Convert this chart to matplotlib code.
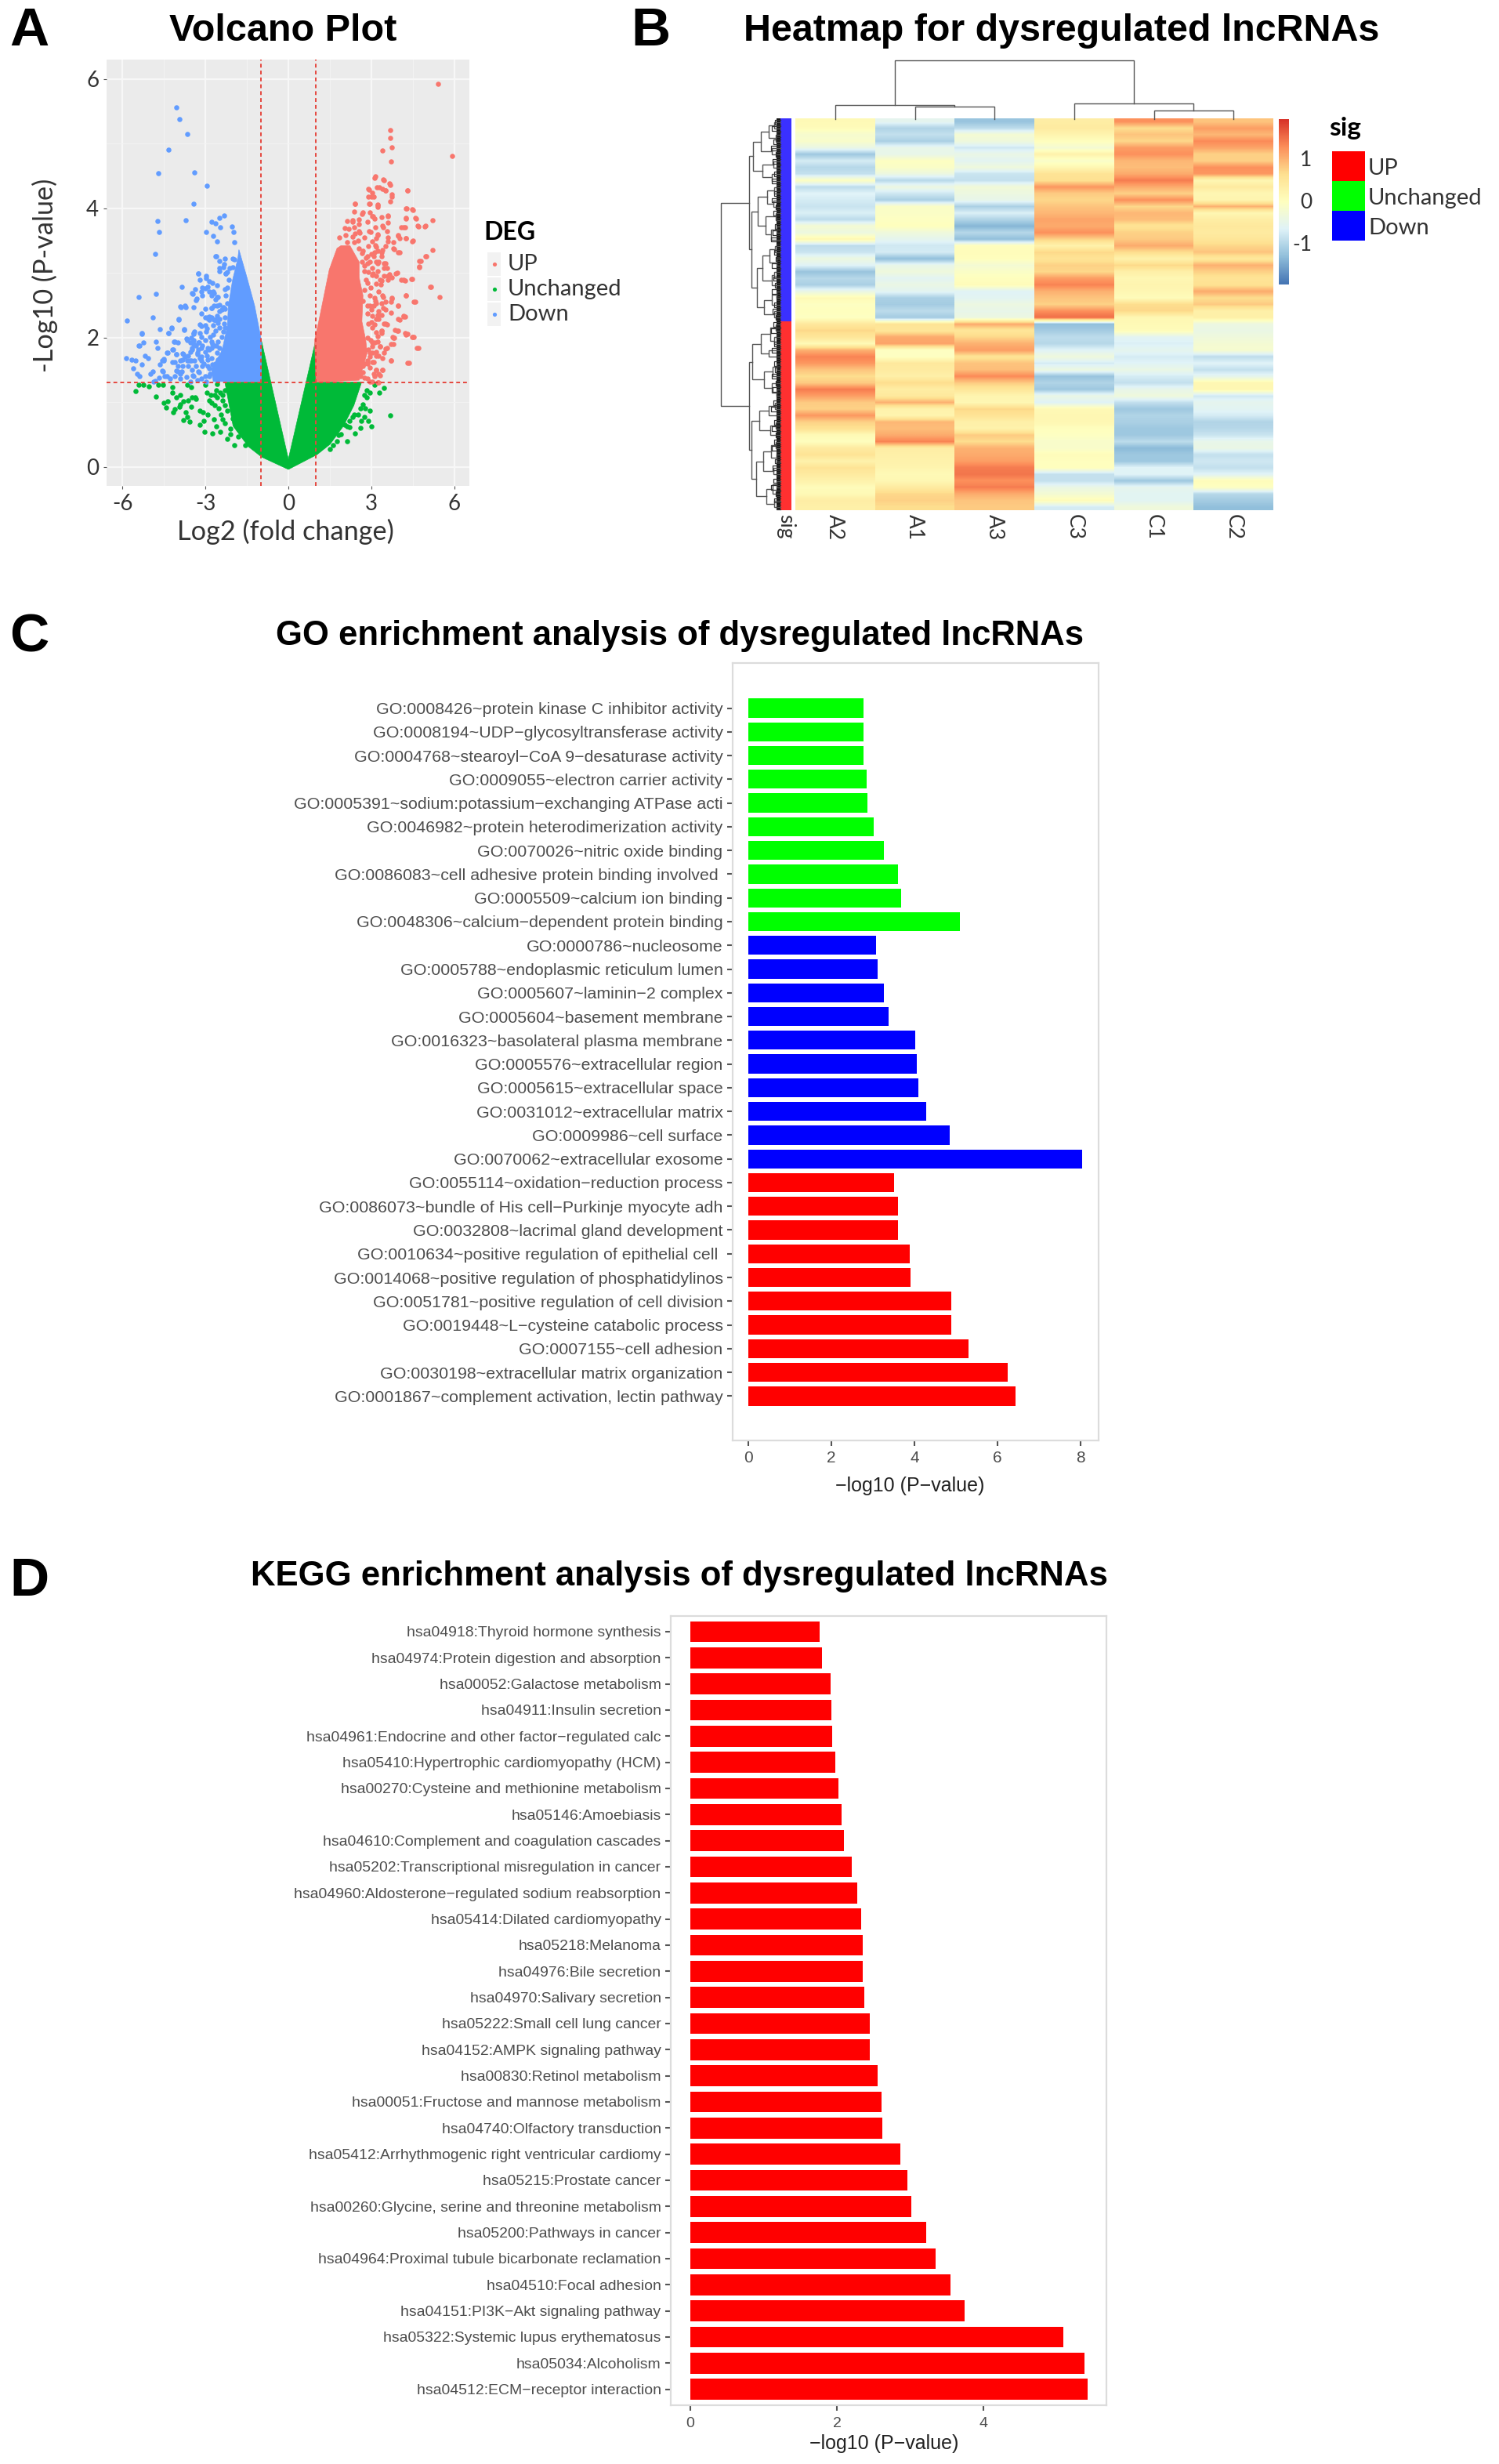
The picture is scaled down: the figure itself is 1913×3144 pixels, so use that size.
import matplotlib
matplotlib.use("Agg")
import matplotlib.pyplot as plt
from matplotlib.colors import LinearSegmentedColormap
from matplotlib.patches import Rectangle
import numpy as np

W, H = 1913, 3144
SANS = "Liberation Sans"
CAL = "Lato"

# ---------- panel A: scattered points
blue_x = [-4.05,-3.95,-3.65,-4.33,-4.72,-3.40,-2.94,-3.44,-4.73,-3.71,-4.67,-4.82,-5.42,-4.78,-3.86,-3.25,-2.97,-5.30,-5.39,
          -2.79,-2.34,-2.49,-2.64,-2.46,-2.97,-2.72,-2.05,-2.00,-2.57,-1.97,-2.60,-1.97,-2.34,-2.49,-2.12,-2.27,
          -3.01,-2.72,-2.76,-2.57,-3.16,-3.46,-3.90,-3.72,-3.31,-3.16,-2.79,-2.42,-2.86,-2.57,-2.34,
          -5.83,-4.90,-3.97,-5.31,-4.66,-4.24,-4.33,-3.76,-2.91,-2.67,-3.15,-2.96,-3.43,-3.53,-3.67,-5.24,-5.41,-4.79,-4.75,
          -4.14,-4.00,-4.19,-3.43,-3.24,-3.15,-3.48,-2.76,-2.62,-2.86,-4.36,-4.05,-3.81,-3.29,-2.96,-5.86,-5.67,-5.52,-5.20,
          -5.09,-5.31,-5.62,-4.52,-4.65,-4.19,-3.67,-3.53,-3.20,-3.05,-2.76,-2.53,-3.99,-4.55,-5.00,-3.99,-5.47,-5.38,-4.47,
          -3.91,-3.43,-3.24,-4.81,-4.28,-2.86,-2.34,-2.10,-2.58]
blue_y = [5.56,5.38,5.15,4.90,4.54,4.55,4.35,4.07,3.80,3.81,3.63,3.29,2.63,2.67,2.78,2.99,2.92,2.07,1.88,
          3.79,3.89,3.85,3.77,3.71,3.63,3.57,3.72,3.63,3.49,3.48,3.26,3.21,3.13,3.07,3.07,2.99,
          2.76,2.71,2.85,2.63,2.71,2.68,2.47,2.47,2.60,2.37,2.46,2.43,2.32,2.26,2.21,
          2.26,2.31,2.27,2.06,2.13,2.14,2.07,2.12,2.30,2.28,2.18,2.14,2.06,2.00,1.96,1.92,1.87,1.93,1.84,
          1.93,1.92,1.82,1.90,1.92,1.84,1.82,1.90,1.88,1.82,1.76,1.74,1.74,1.74,1.72,1.68,1.66,1.64,1.72,
          1.68,1.58,1.52,1.64,1.58,1.62,1.64,1.64,1.68,1.60,1.58,1.54,1.56,1.47,1.44,1.48,1.44,1.40,1.40,
          1.37,1.40,1.46,1.33,1.36,1.40,1.50,1.52,1.35]
blue_more_x = [-2.50,-2.35,-2.50,-2.26,-2.31,-2.02,-2.64,-3.25,-2.97,-3.21,-2.87,-2.59,-2.21,-3.11,-3.37,-3.49,-2.87,-2.69,-2.54,
               -3.11,-3.35,-3.92,-3.73,-3.42,-3.02,-2.78,-2.59,-2.50,-2.31,-2.92,-2.69,-2.50,-2.31,-3.98,-3.77,-4.22,-4.34,-3.21,
               -3.02,-2.50,-2.31,-3.44,-3.21,-2.97,-2.73,-2.40,-3.68,-3.54,-3.25,-2.78,-2.54,-3.49,-3.25,-2.92,-2.69,-4.10,-4.18,
               -4.41,-4.06,-3.82,-3.73,-3.58,-3.40,-3.16,-2.92,-4.10,-3.82,-4.58,-4.50,-4.58,-4.06,-3.87,-4.91,-4.67,-4.39,-4.10,
               -3.70,-3.46,-3.25,-3.11,-3.02,-2.59,-3.16,-4.88,-2.87,-3.82,
               -3.40,-3.16,-3.02,-2.83,-2.64,-2.35,-2.21,-3.44,-3.35,-3.11,-2.78,-2.50,-2.35,-3.54,-3.30,-3.02,-2.59,-3.63,-3.16,
               -2.78,-2.54,-3.92,-3.63,-3.35,-2.92,-2.64,-3.92,-3.49,-2.83,-2.97,-3.30,-3.54,-2.92,-2.78,-2.64,-2.50,-2.35,-2.69,
               -2.87,-3.02,-2.59,-2.78,-2.73,-2.54,-2.21,-2.26,-2.31,-2.17,-2.21,-2.02]
blue_more_y = [3.18,3.09,3.03,2.99,3.22,3.22,3.26,2.99,2.95,2.89,2.87,2.81,2.77,2.77,2.75,2.69,2.71,2.69,2.63,
               2.65,2.58,2.48,2.49,2.47,2.44,2.46,2.49,2.41,2.45,2.31,2.27,2.29,2.31,2.29,2.13,2.15,2.07,2.20,
               2.19,2.15,2.15,2.07,2.07,2.09,2.05,2.01,1.98,1.92,1.92,1.94,1.94,1.84,1.82,1.84,1.88,1.94,1.82,
               1.76,1.74,1.75,1.70,1.64,1.64,1.70,1.66,1.62,1.56,1.64,1.67,1.49,1.49,1.47,1.47,1.38,1.40,1.40,
               1.39,1.42,1.47,1.56,1.40,1.34,1.37,1.32,1.52,1.66,
               2.09,2.01,1.96,2.01,2.11,2.09,2.01,1.96,1.88,1.88,1.84,1.84,1.80,1.78,1.76,1.78,1.76,1.72,1.64,
               1.68,1.66,1.64,1.56,1.56,1.56,1.60,1.44,1.50,1.44,1.32,1.34,1.32,2.79,2.65,2.59,2.51,2.47,2.49,
               2.27,2.31,2.33,2.31,2.19,2.23,2.53,2.65,2.75,2.89,3.01,3.09]

red_x = [5.42,5.92,3.68,3.68,3.74,3.40,3.72,3.15,3.44,3.66,2.92,3.29,3.52,4.30,3.00,3.74,2.40,2.92,3.22,4.29,4.48,2.70,3.07,
         3.59,4.26,4.60,5.22,4.70,4.93,4.18,3.44,2.33,2.55,2.92,3.22,3.96,4.26,4.48,3.59,3.15,3.81,4.04,3.37,3.00,5.22,5.00,
         4.78,4.73,3.52,3.22,2.85,3.07,3.59,3.89,4.18,4.48,3.37,2.85,5.15,5.47,4.26,4.58,3.44,3.74,3.15,3.96,3.44,3.00,3.22,
         4.18,3.52,3.00,3.85,4.22,4.48,3.37,3.78,
         4.36,4.70,4.55,4.32,3.98,4.22,4.03,3.70,3.46,3.80,3.84,3.56,3.37,3.13,3.22,3.03,3.32,3.56,3.18,3.41,3.18,3.03,2.94,
         2.75,3.13,3.32,2.94,3.22]
red_y = [5.92,4.81,5.21,5.09,4.94,4.89,4.73,4.49,4.44,4.38,4.29,4.32,4.27,4.27,4.18,4.18,4.07,4.07,4.04,4.00,3.98,3.93,3.88,
         3.88,3.85,3.85,3.82,3.72,3.72,3.71,3.71,3.79,3.65,3.65,3.60,3.57,3.54,3.49,3.49,3.43,3.38,3.32,3.32,3.29,3.35,3.26,
         3.18,3.10,3.15,3.15,3.15,2.99,2.96,2.99,2.89,2.90,2.88,2.85,2.78,2.63,2.65,2.55,2.63,2.60,2.57,2.49,2.46,2.43,2.35,
         2.32,2.21,2.24,2.12,2.07,2.01,2.07,2.01,
         1.61,1.84,2.01,2.06,2.10,2.32,2.28,1.64,1.76,1.90,2.00,2.20,2.10,2.20,2.02,1.92,1.86,1.84,1.72,1.50,1.50,1.62,1.76,
         1.60,1.40,1.42,1.32,1.31]
red_more_x = [3.13,3.46,3.68,3.21,3.41,3.51,2.89,3.04,4.31,3.74,2.89,3.08,3.68,2.40,2.94,3.22,3.22,2.37,4.26,4.50,2.66,2.94,3.04,
              3.13,3.37,3.60,4.26,4.61,2.14,2.33,2.56,2.85,3.60,3.41,3.16,2.56,4.67,4.95,4.08,4.22,2.04,2.18,2.37,3.56,2.42,2.59,
              2.97,3.22,1.85,2.06,2.33,2.75,3.98,3.60,4.26,4.03,4.50,3.79,3.18,3.04,2.37,2.89,3.18,3.51,3.39,3.84,3.98,3.13,2.85,
              4.97,2.66,4.74,3.27,3.46,4.74,3.04,2.75,3.46,3.22,3.93,3.65,2.89,3.18,3.46,3.74,4.08,4.22,4.45,3.35,5.12,3.27,3.41,
              4.24,3.74,3.51,3.70,4.55,3.98,3.08,3.27,3.70,4.17,3.98,3.18,2.85,
              3.27,3.46,3.18,3.37,3.93,4.26,4.50,3.79,4.64,4.31,3.70,3.70,3.51,3.22,3.04,3.18,2.94,3.41,3.08,3.18,2.85,3.41,2.75,
              3.04,3.27,2.70,
              2.70,2.80,2.94,3.18,2.66,2.75,3.04,2.80,2.99,3.18,2.75,2.94,3.13,2.70,2.94,3.18,3.37,2.85,3.04,3.37,3.51,3.32,3.60,
              3.56,3.08,3.37,3.22,2.56,2.52,2.14,
              2.89,3.04,2.85,2.99,3.13,3.32,2.89,3.04,3.27,2.85,2.94,3.08,3.27,2.70,2.61,2.85]
red_more_y = [4.47,4.43,4.36,4.32,4.30,4.28,4.30,4.24,4.27,4.21,4.18,4.18,4.11,4.07,4.07,4.06,4.02,3.95,4.00,3.97,3.91,3.94,3.88,
              3.84,3.86,3.89,3.84,3.84,3.80,3.81,3.83,3.79,3.78,3.73,3.70,3.75,3.73,3.73,3.71,3.70,3.69,3.68,3.70,3.65,3.61,3.62,
              3.63,3.59,3.55,3.58,3.56,3.55,3.58,3.55,3.54,3.54,3.50,3.48,3.54,3.49,3.48,3.42,3.40,3.41,3.36,3.37,3.32,3.32,3.26,
              3.26,3.30,3.18,3.17,3.15,3.09,3.07,3.11,3.07,3.03,3.00,2.98,3.01,2.95,2.95,2.93,2.89,2.88,2.91,2.82,2.79,2.71,2.65,
              2.65,2.61,2.55,2.56,2.56,2.49,2.49,2.41,2.38,2.33,2.29,2.29,2.49,
              2.29,2.21,2.08,2.10,2.10,2.05,2.01,2.00,1.84,1.61,1.65,1.90,1.83,1.94,1.86,1.78,1.70,1.68,1.62,1.50,1.60,1.50,1.38,
              1.32,1.31,1.46,
              3.34,3.23,3.17,3.17,3.17,3.03,2.97,2.89,2.77,2.83,2.73,2.65,2.61,2.57,2.49,2.53,2.53,2.37,2.33,2.35,2.43,2.89,2.89,
              3.07,3.26,3.26,3.34,3.38,3.50,3.48,
              2.21,2.15,2.00,1.96,1.92,1.86,1.82,1.76,1.72,1.64,1.54,1.44,1.44,1.56,1.40,1.36]

green_x = [-5.52,-4.78,-4.52,-4.38,-4.43,-4.17,-4.19,-4.05,-3.91,-3.81,-3.95,-3.72,-3.81,-3.57,-3.53,-3.48,-3.34,-3.20,-2.91,
           -3.21,-3.05,-3.03,-2.70,-2.77,-2.58,-2.81,-2.62,-2.39,-2.29,-2.43,-2.39,-2.62,-2.75,-2.46,-2.20,-1.96,-1.55,-2.10,-1.72,
           -5.43,-5.24,-5.05,-4.71,-4.55,-4.21,-3.67,-3.53,-3.00,-2.58,
           3.46,3.30,2.94,2.84,2.79,2.94,2.60,2.51,2.75,2.89,2.32,2.22,2.13,2.60,3.01,2.41,2.13,1.80,1.75,1.51,3.68,
           -2.29,-2.48,-2.67,-2.53,-2.39,-2.20,-2.01,-1.82,-2.29,-2.10,-1.82,-1.48,-2.67,-2.96,-2.86,-3.10,-3.62,-3.91,-4.10,-3.38,-3.67,
           2.75,2.70,2.37,2.03,2.22,2.65,1.89,1.61,2.84,3.13]
green_y = [1.17,1.09,0.99,1.01,0.92,0.85,1.15,1.07,1.11,1.01,0.93,0.85,0.72,0.70,0.93,1.07,1.05,0.87,0.81,
           0.65,0.71,0.54,0.73,0.99,1.07,1.11,1.19,1.11,0.95,0.81,0.73,0.63,0.52,0.54,0.43,0.33,0.33,0.59,0.61,
           1.27,1.27,1.24,1.27,1.27,1.23,1.27,1.23,1.27,1.28,
           1.22,1.15,1.15,1.07,0.91,0.87,0.91,0.81,0.77,0.71,0.77,0.71,0.63,0.60,0.63,0.52,0.40,0.49,0.39,0.27,0.80,
           1.19,1.15,0.95,0.91,1.03,0.87,0.75,0.97,0.67,0.51,0.47,0.39,1.11,1.15,1.03,0.85,1.03,0.97,0.89,1.07,0.77,
           1.11,0.97,0.81,0.65,0.61,0.71,0.51,0.33,1.19,1.27]

# outlines of the solid clouds, where single points can no longer be told apart
blue_cloud_x = [-1.79,-1.50,-1.22,-0.98,-0.98,-2.72,-2.78,-2.40,-2.21,-2.17,-2.02,-1.83]
blue_cloud_y = [3.36,2.93,2.49,1.96,1.32,1.32,1.52,1.80,2.17,2.49,2.89,3.22]
red_cloud_x = [0.95,1.10,1.48,1.76,1.90,2.23,2.56,2.56,2.70,2.66,2.80,2.85,2.56,1.00]
red_cloud_y = [1.96,2.25,3.05,3.38,3.42,3.42,3.17,2.93,2.65,2.25,1.96,1.76,1.34,1.31]
green_cloud_x = [-0.98,0.00,0.99,1.03,2.65,2.37,1.99,1.51,1.04,0.00,-0.96,-1.44,-2.00,-2.30,-0.98]
green_cloud_y = [1.96,0.12,1.96,1.31,1.31,0.95,0.63,0.35,0.19,-0.04,0.15,0.31,0.63,1.31,1.31]

# ---------- panel B
sample_names = ["A2", "A1", "A3", "C3", "C1", "C2"]
heat_rows = [
    [.15,-.5,-1.2,.4,1.3,.9], [.1,-1.0,-.9,.45,.7,1.2], [-.15,-.85,-.2,.25,.9,1.0], [-.1,-1.05,-.3,.05,.75,1.35],
    [-.4,-.45,-.75,-.2,1.2,1.15], [-1.15,-.45,-.4,.3,1.3,.8], [-.7,.0,-.55,-.1,1.0,.8], [-.95,-.05,-.3,.2,.95,1.3],
    [-.85,-.35,-.8,.6,1.1,1.25], [.0,-.95,-.85,.65,1.45,.2], [-.9,-.35,-.25,1.25,1.1,.45], [-.6,-.75,-.35,.85,.8,.2],
    [-.7,-1.05,-.45,.75,1.3,.25], [-.8,-.05,-1.05,.9,.75,1.05], [-.65,-.05,-.65,1.0,1.0,.2], [-.9,.0,-1.0,1.15,.95,.4],
    [-.2,.05,-1.35,1.1,.6,.5], [-.35,-.3,-.95,1.3,.8,.45], [.2,-.5,-1.25,.8,.85,.55], [-.9,-.75,.05,.3,1.1,.75],
    [-.8,-.7,.1,.75,.7,.9], [-.35,-1.25,.05,.6,.3,.5], [-.6,-.45,-.2,.8,.75,1.05], [-1.2,-.3,-.05,.75,.35,.8],
    [-.95,-.55,.05,1.2,.2,.6], [-1.05,-.4,.1,1.4,.25,.65], [-.4,-.55,-.6,1.05,.2,1.1], [.15,-1.05,-.55,.9,.1,.7],
    [.0,-1.1,-.35,.8,.7,.85], [.05,-.9,-.45,1.3,.75,.35], [.0,-1.1,-.35,1.55,.2,.35],
    [.5,.6,1.1,-1.25,.15,-.35], [.75,.55,.55,-1.1,.1,-.4], [.55,1.1,.75,-.9,-.55,-.3], [.15,1.15,1.05,-.95,-.65,-.2],
    [1.05,.0,1.2,-.6,-.5,-.15], [1.4,.0,.6,-.3,-.7,-.9], [1.25,.5,.9,-.7,-.6,-.6], [.9,.45,.95,-.35,-.4,-.85],
    [.7,.35,1.35,-1.2,-.7,-.5], [.85,.7,.85,-1.0,-.85,.2], [1.45,.4,.55,-1.15,-.45,.2], [1.2,.5,.25,-.4,-.3,-.75],
    [.85,1.05,.2,-.6,-.85,-.5], [.8,.3,.75,.15,-1.15,-.55], [1.25,.25,.6,.2,-1.0,-.7], [.8,1.0,.35,.2,-1.05,-1.0],
    [.65,.95,.3,.05,-1.15,-.95], [.15,1.1,.85,.0,-1.15,-.8], [.05,1.4,.7,-.1,-.9,-.45], [.45,.4,1.05,-.1,-1.3,-.4],
    [.6,.35,1.1,.1,-1.15,-.85], [.3,.3,1.2,.05,-1.15,-.75], [.6,.25,1.45,.05,-.6,-.85], [.45,.15,1.5,-.85,-.6,-.6],
    [.3,.2,1.3,-.85,-1.15,.1], [.1,.45,1.45,-.4,-.5,.0], [.15,.75,1.1,-.2,-.55,-.95], [.4,.8,.9,.1,-.55,-1.1],
    [.35,.7,.85,-.7,-.3,-1.25],
]
n_blue_rows = 31

# trees: [height, left, right], a leaf is a row or column number
col_tree = [1.0, [.24, 0, [.208, 1, 2]], [.262, 3, [.14, 4, 5]]]
row_tree = [1.0,
    [.525,
        [.46, [.33, [.2, [.1, 0, 1], [.08, 2, 3]], [.15, 4, 5]], [.3, [.12, 6, 7], [.14, 8, 9]]],
        [.49,
            [.38, [.22, [.1, 10, 11], [.12, 12, 13]], [.25, [.08, 14, 15], [.16, [.07, 16, 17], 18]]],
            [.4, [.3, [.18, [.09, 19, 20], [.07, 21, 22]], [.14, [.1, 23, 24], 25]],
                 [.27, [.15, [.06, 26, 27], 28], [.11, 29, 30]]]]],
    [.525,
        [.48, [.33, [.17, [.08, 31, 32], [.1, 33, 34]], [.2, 35, 36]], [.28, [.13, [.07, 37, 38], 39], [.15, 40, [.06, 41, 42]]]],
        [.49,
            [.36, [.2, [.09, 43, 44], 45], [.17, [.08, 46, 47], 48]],
            [.41, [.29, [.16, [.08, 49, 50], [.07, 51, 52]], [.12, 53, 54]],
                  [.24, [.13, [.07, 55, 56], 57], [.1, 58, 59]]]]]]
# small end brackets on each row, the picture has far more leaves than the rows kept here
twig_heights = [.09,.14,.07,.12,.16,.08,.13,.06,.11,.15,.07,.1,.14,.08,.12,.06,.09,.13,.16,.07,
                .11,.08,.15,.06,.12,.09,.14,.07,.1,.13,.08,.12,.16,.07,.1,.14,.06,.11,.09,.15,
                .08,.13,.07,.12,.16,.06,.1,.14,.08,.11,.15,.07,.09,.13,.06,.12,.16,.08,.1,.07]

sig_names = ["UP", "Unchanged", "Down"]
sig_colors = ["#FF0000", "#00FF00", "#0000FF"]
cbar_ticks = [1, 0, -1]

# ---------- panel C
go_terms = [
    "GO:0008426~protein kinase C inhibitor activity", "GO:0008194~UDP−glycosyltransferase activity",
    "GO:0004768~stearoyl−CoA 9−desaturase activity", "GO:0009055~electron carrier activity",
    "GO:0005391~sodium:potassium−exchanging ATPase acti", "GO:0046982~protein heterodimerization activity",
    "GO:0070026~nitric oxide binding", "GO:0086083~cell adhesive protein binding involved ",
    "GO:0005509~calcium ion binding", "GO:0048306~calcium−dependent protein binding",
    "GO:0000786~nucleosome", "GO:0005788~endoplasmic reticulum lumen", "GO:0005607~laminin−2 complex",
    "GO:0005604~basement membrane", "GO:0016323~basolateral plasma membrane", "GO:0005576~extracellular region",
    "GO:0005615~extracellular space", "GO:0031012~extracellular matrix", "GO:0009986~cell surface",
    "GO:0070062~extracellular exosome", "GO:0055114~oxidation−reduction process",
    "GO:0086073~bundle of His cell−Purkinje myocyte adh", "GO:0032808~lacrimal gland development",
    "GO:0010634~positive regulation of epithelial cell ", "GO:0014068~positive regulation of phosphatidylinos",
    "GO:0051781~positive regulation of cell division", "GO:0019448~L−cysteine catabolic process",
    "GO:0007155~cell adhesion", "GO:0030198~extracellular matrix organization",
    "GO:0001867~complement activation, lectin pathway",
]
go_values = [2.78, 2.78, 2.78, 2.84, 2.87, 3.02, 3.26, 3.61, 3.68, 5.09,
             3.07, 3.12, 3.26, 3.37, 4.01, 4.06, 4.09, 4.28, 4.85, 8.03,
             3.51, 3.61, 3.61, 3.89, 3.90, 4.89, 4.89, 5.30, 6.24, 6.43]
go_colors = ["#00FF00"] * 10 + ["#0000FF"] * 10 + ["#FF0000"] * 10

# ---------- panel D
kegg_terms = [
    "hsa04918:Thyroid hormone synthesis", "hsa04974:Protein digestion and absorption", "hsa00052:Galactose metabolism",
    "hsa04911:Insulin secretion", "hsa04961:Endocrine and other factor−regulated calc",
    "hsa05410:Hypertrophic cardiomyopathy (HCM)", "hsa00270:Cysteine and methionine metabolism", "hsa05146:Amoebiasis",
    "hsa04610:Complement and coagulation cascades", "hsa05202:Transcriptional misregulation in cancer",
    "hsa04960:Aldosterone−regulated sodium reabsorption", "hsa05414:Dilated cardiomyopathy", "hsa05218:Melanoma",
    "hsa04976:Bile secretion", "hsa04970:Salivary secretion", "hsa05222:Small cell lung cancer",
    "hsa04152:AMPK signaling pathway", "hsa00830:Retinol metabolism", "hsa00051:Fructose and mannose metabolism",
    "hsa04740:Olfactory transduction", "hsa05412:Arrhythmogenic right ventricular cardiomy", "hsa05215:Prostate cancer",
    "hsa00260:Glycine, serine and threonine metabolism", "hsa05200:Pathways in cancer",
    "hsa04964:Proximal tubule bicarbonate reclamation", "hsa04510:Focal adhesion", "hsa04151:PI3K−Akt signaling pathway",
    "hsa05322:Systemic lupus erythematosus", "hsa05034:Alcoholism", "hsa04512:ECM−receptor interaction",
]
kegg_values = [1.77, 1.80, 1.92, 1.93, 1.94, 1.98, 2.02, 2.06, 2.10, 2.20, 2.28, 2.33, 2.35, 2.35, 2.37,
               2.45, 2.45, 2.56, 2.61, 2.62, 2.87, 2.96, 3.02, 3.22, 3.35, 3.55, 3.74, 5.09, 5.38, 5.42]


def ax_px(x0, y0, x1, y1):
    return fig.add_axes([x0 / W, 1 - y1 / H, (x1 - x0) / W, (y1 - y0) / H])


def draw_tree(ax, node, horizontal):
    # returns (position, height) of the node, draws its bracket
    if not isinstance(node, list):
        return node + 0.5, 0.0
    p1, h1 = draw_tree(ax, node[1], horizontal)
    p2, h2 = draw_tree(ax, node[2], horizontal)
    h = node[0]
    pos = [p1, p1, p2, p2]
    hts = [h1, h, h, h2]
    if horizontal:
        ax.plot(pos, hts, color="#555555", lw=1.0, solid_joinstyle="miter")
    else:
        ax.plot(hts, pos, color="#555555", lw=1.0, solid_joinstyle="miter")
    return (p1 + p2) / 2, h


def bar_panel(box, terms, values, colors, xlim, xticks, lab_size, tick_size, pad):
    ax = ax_px(*box)
    y = np.arange(len(terms))
    ax.barh(y, values, height=0.8, color=colors, linewidth=0)
    ax.set_yticks(y)
    ax.set_yticklabels(terms)
    ax.set_xticks(xticks)
    ax.set_xlim(*xlim)
    ax.set_ylim(len(terms) - 0.4, -0.6)
    ax.tick_params(axis="y", labelsize=lab_size, labelcolor="#4d4d4d", color="#555555", length=5, width=1.5, pad=4)
    ax.tick_params(axis="x", labelsize=tick_size, labelcolor="#4d4d4d", color="#555555", length=5, width=1.5, pad=pad)
    for s in ax.spines.values():
        s.set_color("#dcdcdc")
        s.set_linewidth(1.6)
    return ax


plt.rcParams["font.family"] = SANS
plt.rcParams["axes.unicode_minus"] = False
fig = plt.figure(figsize=(W / 100, H / 100), dpi=100, facecolor="white")

# ---------- A: volcano
ax = ax_px(136, 76, 599, 620)
ax.set_facecolor("#EBEBEB")
ax.set_xlim(-6.58, 6.55)
ax.set_ylim(-0.295, 6.30)
ax.set_xticks([-6, -3, 0, 3, 6])
ax.set_yticks([0, 2, 4, 6])
ax.set_xticks([-4.5, -1.5, 1.5, 4.5], minor=True)
ax.set_yticks([1, 3, 5], minor=True)
ax.grid(which="major", color="#F7F7F7", lw=1.6)
ax.grid(which="minor", color="#F2F2F2", lw=0.8)
ax.set_axisbelow(True)
ax.tick_params(which="minor", length=0)
ax.tick_params(which="major", length=3, color="#555555", labelsize=20, labelcolor="#333333", pad=4)
for lab in ax.get_xticklabels() + ax.get_yticklabels():
    lab.set_fontfamily(CAL)
for s in ax.spines.values():
    s.set_visible(False)
ax.fill(green_cloud_x, green_cloud_y, color="#00BA38", lw=0.5, zorder=2)
ax.fill(blue_cloud_x, blue_cloud_y, color="#619CFF", lw=0.5, zorder=2)
ax.fill(red_cloud_x, red_cloud_y, color="#F8766D", lw=0.5, zorder=2)
ax.scatter(green_x, green_y, s=22, color="#00BA38", lw=0, zorder=2)
ax.scatter(blue_x + blue_more_x, blue_y + blue_more_y, s=22, color="#619CFF", lw=0, zorder=2)
ax.scatter(red_x + red_more_x, red_y + red_more_y, s=22, color="#F8766D", lw=0, zorder=2)
for v in [-1, 1]:
    ax.axvline(v, color="#E5473F", lw=1.4, ls=(0, (2.5, 2)), zorder=3)
ax.axhline(1.3, color="#E5473F", lw=1.4, ls=(0, (2.5, 2)), zorder=3)

# ---------- B: heatmap
heat_cmap = LinearSegmentedColormap.from_list("rdylbu", ["#4575B4", "#91BFDB", "#E0F3F8", "#FFFFBF", "#FEE090", "#FC8D59", "#D73027"])
heat = np.array(heat_rows)
hm = ax_px(1015, 151.5, 1625, 651)
# one image per column, so the rows soften into each other but the columns stay sharp
for j in range(heat.shape[1]):
    hm.imshow(heat[:, [j]], aspect="auto", cmap=heat_cmap, vmin=-1.92, vmax=1.99, interpolation="bilinear",
              extent=(j, j + 1, len(heat_rows), 0))
hm.set_xlim(0, 6)
hm.set_ylim(len(heat_rows), 0)
hm.axis("off")

strip = ax_px(996, 151.5, 1010, 651)
strip.set_xlim(0, 1)
strip.set_ylim(len(heat_rows), 0)
strip.barh(n_blue_rows / 2, 1, height=n_blue_rows, color="#3A30FF", lw=0)
strip.barh((n_blue_rows + len(heat_rows)) / 2, 1, height=len(heat_rows) - n_blue_rows, color="#FF3030", lw=0)
strip.axis("off")

top_d = ax_px(1015, 77, 1625, 151.5)
top_d.set_xlim(0, 6)
top_d.set_ylim(0, 1.0)
draw_tree(top_d, col_tree, True)
top_d.axis("off")
for line in top_d.lines:
    line.set_clip_on(False)

left_d = ax_px(920, 151.5, 996, 651)
left_d.set_xlim(1.0, 0)
left_d.set_ylim(len(heat_rows), 0)
draw_tree(left_d, row_tree, False)
for i, h in enumerate(twig_heights):
    left_d.plot([0, h, h, 0], [i + 0.15, i + 0.15, i + 0.85, i + 0.85], color="#333333", lw=0.9)
left_d.axvspan(0, 0.07, color="#111111", lw=0)
left_d.axis("off")
for line in left_d.lines:
    line.set_clip_on(False)

cb = ax_px(1632, 151.5, 1645, 363)
cb.imshow(np.linspace(1.99, -1.92, 200)[:, None], aspect="auto", cmap=heat_cmap, vmin=-1.92, vmax=1.99, extent=(0, 1, -1.92, 1.99))
cb.axis("off")

# ---------- C, D
go = bar_panel((935, 846, 1402, 1838), go_terms, go_values, go_colors, (-0.377, 8.43), [0, 2, 4, 6, 8], 15.4, 15, 4)
go.set_ylim(30.87, -1.9)
kegg = bar_panel((856, 2062, 1412, 3068.5), kegg_terms, kegg_values, ["#FF0000"] * 30, (-0.267, 5.68), [0, 2, 4], 13.95, 14, 6)

# ---------- text and legends on a pixel overlay
ov = fig.add_axes([0, 0, 1, 1], facecolor="none")
ov.set_xlim(0, W)
ov.set_ylim(H, 0)
ov.axis("off")

for s, x, y in [("A", 37, 40), ("B", 830, 40), ("C", 37, 813), ("D", 37, 2018)]:
    ov.text(x, y, s, fontsize=50, fontweight="bold", ha="center", va="center")
ov.text(361, 40, "Volcano Plot", fontsize=35, fontweight="bold", ha="center", va="center")
ov.text(1355, 40, "Heatmap for dysregulated lncRNAs", fontsize=34.8, fontweight="bold", ha="center", va="center")
ov.text(868, 811, "GO enrichment analysis of dysregulated lncRNAs", fontsize=31.4, fontweight="bold", ha="center", va="center")
ov.text(867, 2012, "KEGG enrichment analysis of dysregulated lncRNAs", fontsize=31.5, fontweight="bold", ha="center", va="center")

ov.text(364.5, 678, "Log2 (fold change)", fontsize=24.7, family=CAL, color="#333333", ha="center", va="center")
ov.text(57, 351, "-Log10 (P-value)", fontsize=24.7, family=CAL, color="#333333", rotation=90, ha="center", va="center")
ov.text(617, 296, "DEG", fontsize=23, family=CAL, fontweight="bold", ha="left", va="center")
for name, c, y in zip(sig_names, ["#F8766D", "#00BA38", "#619CFF"], [337, 369, 401]):
    ov.add_patch(Rectangle((622, y - 15), 17, 30, color="#F2F2F2", lw=0))
    ov.scatter([630.5], [y], s=14, color=c, lw=0)
    ov.text(648, y, name, fontsize=21, family=CAL, color="#333333", ha="left", va="center")

for name, x in zip(["sig"] + sample_names, [1003, 1065.8, 1167.5, 1269, 1371, 1472.5, 1574]):
    ov.text(x, 656, name, fontsize=19, family=CAL, color="#333333", rotation=270, ha="center", va="top")
for t, y in zip(cbar_ticks, [204, 259, 312]):
    ov.text(1674, y, str(t), fontsize=19, family=CAL, color="#333333", ha="right", va="center")
ov.text(1696, 163, "sig", fontsize=24, family=CAL, fontweight="bold", ha="left", va="center")
for name, c, y in zip(sig_names, sig_colors, [193, 231, 269]):
    ov.add_patch(Rectangle((1700, y), 42, 38, color=c, lw=0))
    ov.text(1746, y + 22, name, fontsize=21, family=CAL, color="#333333", ha="left", va="center")

ov.text(1161, 1896, "−log10 (P−value)", fontsize=18, color="#222222", ha="center", va="center")
ov.text(1128, 3118, "−log10 (P−value)", fontsize=18, color="#222222", ha="center", va="center")

fig.savefig("out.png", dpi=100)
plt.close(fig)
